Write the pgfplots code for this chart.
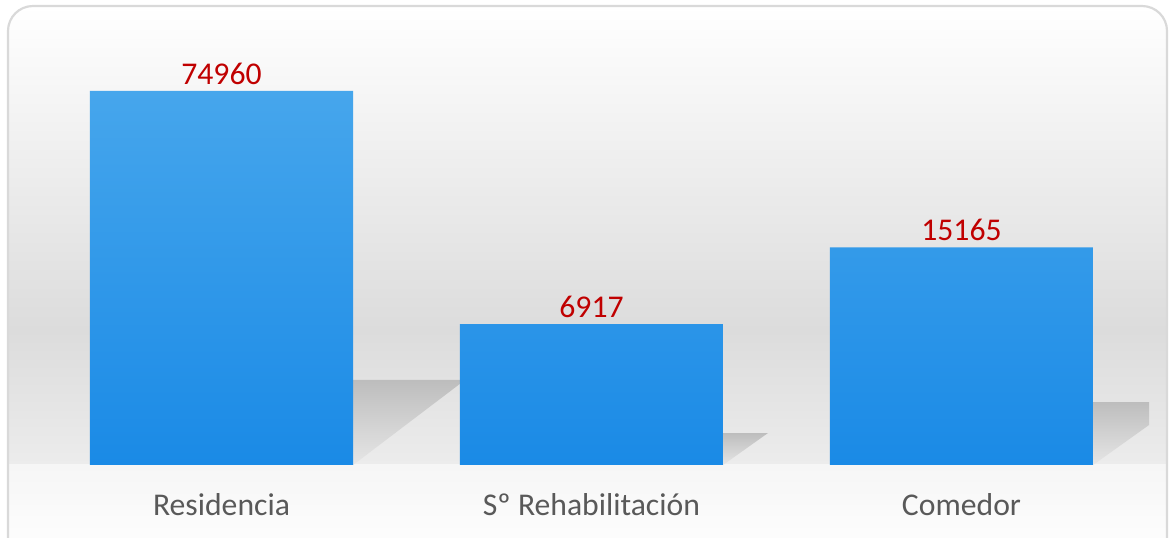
\documentclass[border=0pt]{standalone}
\usepackage{pgfplots}
\pgfplotsset{compat=1.18}
\usepackage{fontspec}
\setmainfont{Carlito}
\definecolor{barTop}{HTML}{46A6EC}
\definecolor{barBot}{HTML}{1A8AE6}
\definecolor{valRed}{HTML}{C00000}
\definecolor{lblGray}{HTML}{595959}
\definecolor{bgMid}{HTML}{DCDCDC}
\definecolor{bgLow}{HTML}{ECECEC}
\definecolor{floorC}{HTML}{F6F6F6}
\definecolor{frameC}{HTML}{D9D9D9}
\definecolor{shadowC}{HTML}{BDBDBD}
\definecolor{shadowL}{HTML}{E6E6E6}
\begin{document}
\begin{tikzpicture}
\begin{scope}[x=0.6pt,y=0.6pt]
\path[use as bounding box] (0,0) rectangle (1171,537);
\fill[white] (0,0) rectangle (1171,537);
\begin{scope}
\clip[rounded corners=15pt] (8,-30) rectangle (1167,531);
\shade[top color=white,bottom color=bgMid] (0,531) rectangle (1171,207);
\shade[top color=bgMid,bottom color=bgLow] (0,207.2) rectangle (1171,72);
\shade[top color=floorC,bottom color=white] (0,72.2) rectangle (1171,-30);
% shadows
\shade[top color=shadowC,bottom color=shadowL] (353,157) -- (465,157) -- (353,72) -- cycle;
\shade[top color=shadowC,bottom color=shadowL] (723,104) -- (768,104) -- (723,72) -- cycle;
\shade[top color=shadowC,bottom color=shadowL] (1093,135) -- (1149,135) -- (1149,112) -- (1093,72) -- cycle;
\end{scope}
\draw[frameC,line width=1.3pt,rounded corners=15pt] (8,-30) rectangle (1167,531);
\end{scope}
\begin{axis}[
  at={(21.9pt,43.2pt)}, anchor=south west,
  scale only axis, width=666pt, height=261pt,
  ymode=log, log origin y=infty, ymin=1640, ymax=139600,
  xmin=-0.5, xmax=2.5,
  axis line style={draw=none},
  ytick=\empty,
  xtick={0,1,2},
  xticklabels={Residencia, Sº Rehabilitación, Comedor},
  major tick length=0pt,
  xticklabel style={font=\fontsize{19}{22}\selectfont, text=lblGray, inner sep=0pt, yshift=-17pt, anchor=north},
  ybar, bar width=157.8pt,
  nodes near coords={\pgfplotspointmeta},
  point meta=explicit symbolic,
  every node near coord/.append style={font=\fontsize{19}{22}\selectfont, text=valRed, inner sep=0pt, anchor=south, yshift=3.6pt},
]
\addplot[draw=none, shading=axis, top color=barTop, bottom color=barBot]
  coordinates {(0,74960) [74960] (1,6917) [6917] (2,15165) [15165]};
\end{axis}
\end{tikzpicture}
\end{document}
